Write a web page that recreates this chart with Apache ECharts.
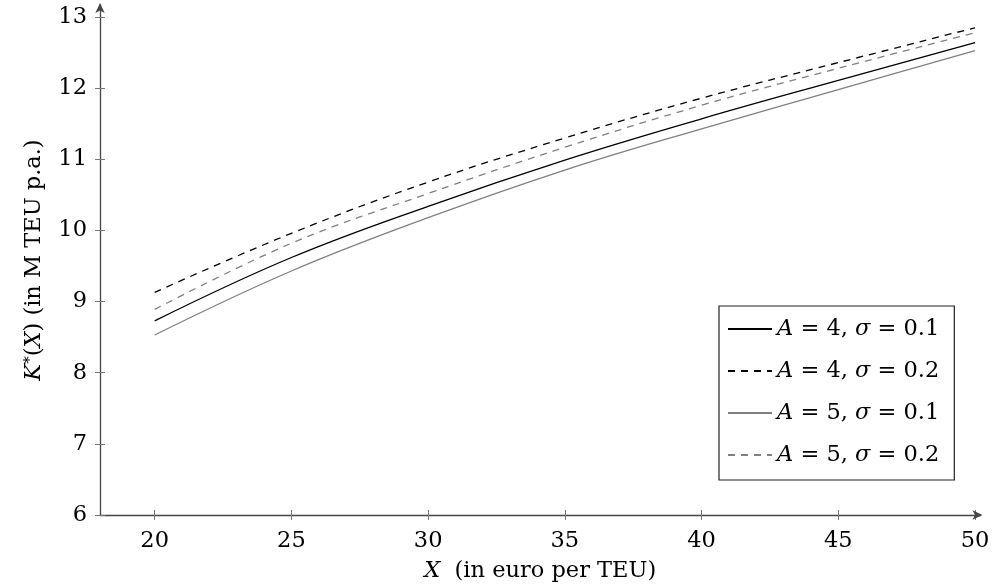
<!DOCTYPE html>
<html>
<head>
<meta charset="utf-8">
<script src="https://cdn.jsdelivr.net/npm/echarts@6/dist/echarts.min.js"></script>
<style>
  html, body { margin: 0; padding: 0; background: #fff; }
  #chart { width: 994px; height: 588px; }
</style>
</head>
<body>
<div id="chart"></div>
<script>
// Prices X (euro per TEU) and optimal capacity K*(X) for each parameter set
const xValues = [20, 25, 30, 35, 40, 45, 50];
const kA4s01 = [8.73, 9.62, 10.34, 10.99, 11.57, 12.11, 12.64];
const kA4s02 = [9.13, 9.96, 10.68, 11.30, 11.86, 12.36, 12.85];
const kA5s01 = [8.53, 9.43, 10.18, 10.85, 11.43, 11.98, 12.53];
const kA5s02 = [8.89, 9.82, 10.52, 11.17, 11.76, 12.28, 12.78];
const xTicks = [20, 25, 30, 35, 40, 45, 50];
const yTicks = [6, 7, 8, 9, 10, 11, 12, 13];
const seriesNames = ['A4s01', 'A4s02', 'A5s01', 'A5s02'];
const legendLabels = {
  A4s01: '{i|A} = 4, {i|σ} = 0.1',
  A4s02: '{i|A} = 4, {i|σ} = 0.2',
  A5s01: '{i|A} = 5, {i|σ} = 0.1',
  A5s02: '{i|A} = 5, {i|σ} = 0.2'
};

const FONT = 'DejaVu Serif';
const FS = 22.5;
const pairs = ys => xValues.map((x, i) => [x, ys[i]]);

function lineSeries(name, ys, color, dashed) {
  return {
    name: name,
    type: 'line',
    data: pairs(ys),
    smooth: 0.4,
    showSymbol: false,
    symbol: 'none',
    silent: true,
    lineStyle: { color: color, width: 1.3, type: dashed ? [7, 6] : 'solid' },
    itemStyle: { color: color }
  };
}

const richText = {
  i: { fontFamily: FONT, fontStyle: 'italic', fontSize: FS, color: '#000' },
  n: { fontFamily: FONT, fontSize: FS, color: '#000' },
  sup: { fontFamily: FONT, fontSize: 15, color: '#000', verticalAlign: 'top', padding: [0, 0, 8, 0] }
};

const chart = echarts.init(document.getElementById('chart'), null, { renderer: 'canvas' });
chart.setOption({
  animation: false,
  backgroundColor: '#fff',
  grid: { left: 100, right: 13.5, top: 5, bottom: 73, containLabel: false },
  xAxis: [{
    type: 'value',
    min: 18,
    max: 50.2,
    name: '{i|X}{n|  (in euro per TEU)}',
    nameLocation: 'middle',
    nameGap: 45,
    nameTextStyle: { rich: richText },
    axisLine: { show: true, lineStyle: { color: '#444', width: 1.3 }, symbol: ['none', 'arrow'], symbolSize: [7, 10], symbolOffset: [0, 2] },
    axisTick: { show: true, length: 5, lineStyle: { color: '#777' }, customValues: xTicks },
    axisLabel: { color: '#000', fontFamily: FONT, fontSize: FS, margin: 15, customValues: xTicks },
    splitLine: { show: false }
  }, {
    type: 'value',
    min: 18,
    max: 50.2,
    position: 'bottom',
    axisLine: { show: false },
    axisTick: { show: true, inside: true, length: 5, lineStyle: { color: '#777' }, customValues: xTicks },
    axisLabel: { show: false },
    splitLine: { show: false }
  }],
  yAxis: [{
    type: 'value',
    min: 6,
    max: 13.17,
    name: '{i|K}{sup|*}{n|(}{i|X}{n|) (in M TEU p.a.)}',
    nameLocation: 'middle',
    nameRotate: 90,
    nameGap: 54,
    nameTextStyle: { rich: richText },
    axisLine: { show: true, lineStyle: { color: '#444', width: 1.3 }, symbol: ['none', 'arrow'], symbolSize: [7, 10], symbolOffset: [0, 2] },
    axisTick: { show: true, length: 5, lineStyle: { color: '#777' }, customValues: yTicks },
    axisLabel: { color: '#000', fontFamily: FONT, fontSize: FS, margin: 13, customValues: yTicks },
    splitLine: { show: false }
  }, {
    type: 'value',
    min: 6,
    max: 13.17,
    position: 'left',
    axisLine: { show: false },
    axisTick: { show: true, inside: true, length: 5, lineStyle: { color: '#777' }, customValues: yTicks },
    axisLabel: { show: false },
    splitLine: { show: false }
  }],
  legend: {
    orient: 'vertical',
    left: 719,
    top: 306,
    data: seriesNames,
    itemWidth: 44,
    itemHeight: 12,
    itemGap: 12,
    padding: [8, 15, 10, 8],
    borderColor: '#222',
    borderWidth: 1.2,
    borderRadius: 0,
    selectedMode: false,
    itemStyle: { opacity: 0 },
    formatter: name => legendLabels[name],
    textStyle: { fontFamily: FONT, fontSize: FS, color: '#000', lineHeight: 30, rich: {
      i: { fontFamily: FONT, fontStyle: 'italic', fontSize: FS, color: '#000' }
    } }
  },
  series: [
    lineSeries('A4s01', kA4s01, '#000000', false),
    lineSeries('A4s02', kA4s02, '#000000', true),
    lineSeries('A5s01', kA5s01, '#808080', false),
    lineSeries('A5s02', kA5s02, '#808080', true)
  ]
});
</script>
</body>
</html>
